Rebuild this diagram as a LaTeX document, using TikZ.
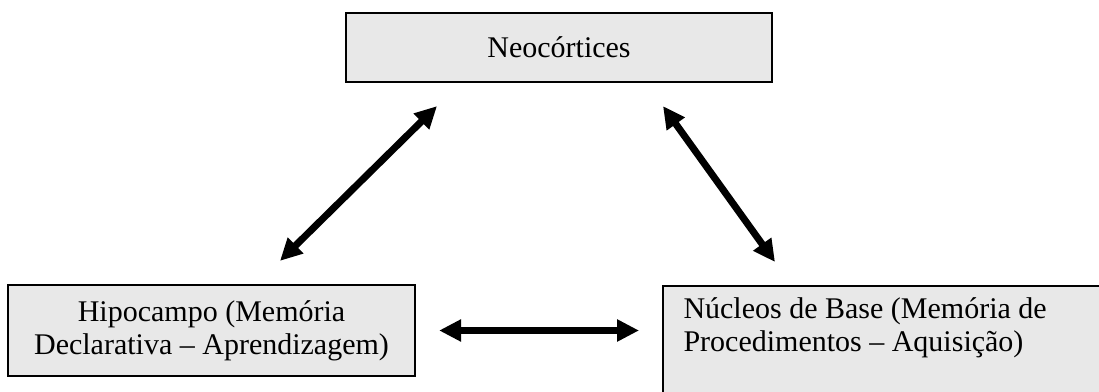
\documentclass[tikz,border=0pt]{standalone}
\usepackage{fontspec}
\setmainfont{Liberation Serif}
\usetikzlibrary{arrows.meta, positioning, calc}
\definecolor{boxgray}{RGB}{232,232,232}
\tikzset{
  box/.style = {
    draw, fill=boxgray, line width=0.9pt, align=center, inner sep=0pt,
    font=\fontsize{12}{13.2}\selectfont
  },
  plaintext/.style = {align=left, inner sep=0pt, font=\fontsize{12}{13.2}\selectfont},
  arrow/.style = {{Triangle[length=8.8pt,width=8.4pt]}-{Triangle[length=8.8pt,width=8.4pt]}, line width=2.8pt},
}

\begin{document}
\begin{tikzpicture}[x=0.4pt, y=-0.4pt]
    \clip (0,0) rectangle (1099,392);

    % Top: neocortex
    \node[box, minimum width=170.4pt, minimum height=27.6pt] (neo) at (559,47.5) {Neocórtices};

    % Bottom left: hippocampus
    \node[box, minimum width=162.8pt, minimum height=36.4pt] (hipo) at (211.5,330.5)
      {Hipocampo (Memória\\Declarativa – Aprendizagem)};

    % Bottom right: basal nuclei (box runs off the page)
    \node[box, anchor=north west, minimum width=200pt, minimum height=60pt] (nucleos) at (662,285) {};
    \node[plaintext, anchor=north west] (nucleostxt) at ($(nucleos.north west)+(21,12)$)
      {Núcleos de Base (Memória de\\Procedimentos – Aquisição)};

    % Arrow ends
    \coordinate (hipoup)  at ($(hipo.north)+(68.5,-23)$);
    \coordinate (neoleft) at ($(neo.south)+(-122,23)$);
    \coordinate (neoright) at ($(neo.south)+(104,23)$);
    \coordinate (nucup)   at ($(nucleos.north west)+(113,-23)$);

    % Arrows
    \draw[arrow] (hipoup) -- (neoleft);
    \draw[arrow] (neoright) -- (nucup);
    \draw[arrow, shorten <=9.2pt, shorten >=9.2pt] (hipo.east) -- (hipo.east -| nucleos.west);
\end{tikzpicture}
\end{document}
